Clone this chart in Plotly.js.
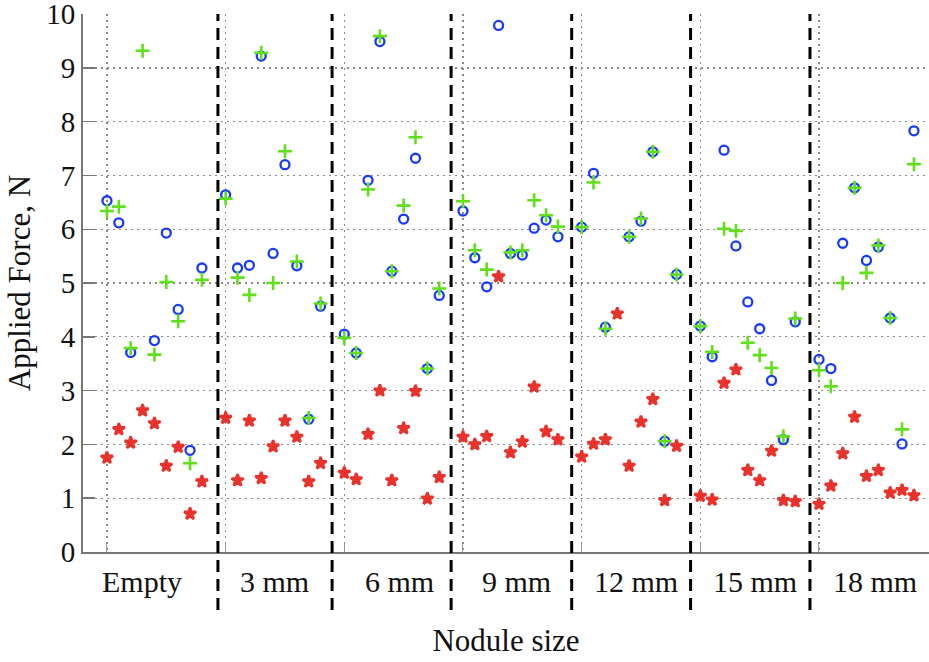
<!DOCTYPE html>
<html>
<head>
<meta charset="utf-8">
<script src="https://cdn.plot.ly/plotly-3.0.1.min.js"></script>
<style>
  html, body { margin: 0; padding: 0; background: #fff; }
  #chart { width: 929px; height: 662px; }
</style>
</head>
<body>
<div id="chart"></div>
<script>
// Categories (nodule sizes)
const groups = ["Empty", "3 mm", "6 mm", "9 mm", "12 mm", "15 mm", "18 mm"];

// Blue circles, per group (9 trials each)
const blueEmpty = [6.53, 6.12, 3.71, null, 3.93, 5.93, 4.51, 1.89, 5.28];
const blue3  = [6.64, 5.28, 5.33, 9.22, 5.55, 7.20, 5.32, 2.47, 4.57];
const blue6  = [4.05, 3.70, 6.91, 9.49, 5.22, 6.19, 7.32, 3.41, 4.77];
const blue9  = [6.34, 5.47, 4.93, 9.79, 5.55, 5.52, 6.02, 6.17, 5.86];
const blue12 = [6.04, 7.04, 4.18, null, 5.86, 6.15, 7.44, 2.06, 5.16];
const blue15 = [4.20, 3.63, 7.47, 5.69, 4.65, 4.15, 3.19, 2.09, 4.28];
const blue18 = [3.58, 3.41, 5.74, 6.77, 5.42, 5.67, 4.35, 2.01, 7.83];

// Green crosses
const greenEmpty = [6.34, 6.42, 3.79, 9.32, 3.67, 5.02, 4.29, 1.65, 5.06];
const green3  = [6.57, 5.10, 4.78, 9.28, 5.00, 7.45, 5.40, 2.49, 4.62];
const green6  = [3.98, 3.70, 6.74, 9.59, 5.22, 6.44, 7.71, 3.41, 4.90];
const green9  = [6.52, 5.61, 5.25, null, 5.57, 5.61, 6.54, 6.26, 6.05];
const green12 = [6.04, 6.87, 4.15, null, 5.86, 6.20, 7.44, 2.06, 5.16];
const green15 = [4.20, 3.72, 6.01, 5.97, 3.89, 3.66, 3.42, 2.15, 4.34];
const green18 = [3.38, 3.08, 5.00, 6.77, 5.19, 5.70, 4.35, 2.28, 7.21];

// Red stars
const redEmpty = [1.75, 2.28, 2.03, 2.63, 2.39, 1.60, 1.95, 0.71, 1.31];
const red3  = [2.49, 1.33, 2.44, 1.37, 1.96, 2.44, 2.14, 1.31, 1.65];
const red6  = [1.47, 1.35, 2.19, 3.00, 1.33, 2.30, 2.99, 0.99, 1.39];
const red9  = [2.14, 2.00, 2.15, 5.12, 1.85, 2.05, 3.07, 2.24, 2.09];
const red12 = [1.77, 2.01, 2.09, 4.43, 1.60, 2.42, 2.84, 0.96, 1.97];
const red15 = [1.04, 0.97, 3.14, 3.39, 1.52, 1.33, 1.88, 0.96, 0.94];
const red18 = [0.89, 1.23, 1.83, 2.51, 1.41, 1.52, 1.10, 1.15, 1.05];

const yTicks = [0, 1, 2, 3, 4, 5, 6, 7, 8, 9, 10];

// ---- layout helpers (positions, not data) ----
const slotsPerGroup = 10;
const labelX = [2.95, 14.1, 24.65, 34.5, 44.6, 54.6, 64.75];
const separatorX = [9.35, 18.97, 29.0, 39.16, 49.18, 59.24];

function flatten(arrs) {
  const xs = [], ys = [];
  arrs.forEach((a, g) => a.forEach((v, i) => { xs.push(g * slotsPerGroup + i); ys.push(v); }));
  return { x: xs, y: ys };
}
const blue = flatten([blueEmpty, blue3, blue6, blue9, blue12, blue15, blue18]);
const green = flatten([greenEmpty, green3, green6, green9, green12, green15, green18]);
const red = flatten([redEmpty, red3, red6, red9, red12, red15, red18]);

const font = "Liberation Serif";

const traces = [
  { type: "scatter", mode: "markers", x: red.x, y: red.y, name: "red",
    marker: { symbol: "star", size: 9, color: "#e8322b", line: { color: "#e8322b", width: 2.6 } }, cliponaxis: false },
  { type: "scatter", mode: "markers", x: blue.x, y: blue.y, name: "blue",
    marker: { symbol: "circle-open", size: 9, color: "#1638ff", line: { width: 2.3 } }, cliponaxis: false },
  { type: "scatter", mode: "markers", x: green.x, y: green.y, name: "green",
    marker: { symbol: "cross-thin-open", size: 10, color: "#5fe01a", line: { width: 2.6 } }, cliponaxis: false }
];

const yTop = 10.002;
const shapes = separatorX.map(v => ({
  type: "line", xref: "x", yref: "paper", x0: v, x1: v, y0: -0.108, y1: 1,
  line: { color: "#000", width: 3, dash: "12px,7px" }, layer: "above"
}));

const annotations = groups.map((g, k) => ({
  text: g, x: labelX[k], xref: "x", y: 0, yref: "paper",
  yanchor: "middle", xanchor: "center", yshift: -29, showarrow: false,
  font: { family: font, size: 30, color: "#111" }
}));

const layout = {
  width: 929, height: 662,
  margin: { l: 83, r: 0, t: 14, b: 110 },
  paper_bgcolor: "#fff", plot_bgcolor: "#fff",
  showlegend: false,
  xaxis: {
    range: [-2.02, 69.27],
    tickmode: "array",
    tickvals: groups.map((g, k) => k * slotsPerGroup),
    ticktext: groups.map(() => ""),
    ticks: "inside", ticklen: 8, tickcolor: "#999", tickwidth: 1,
    showgrid: true, gridcolor: "#8a8a8a", gridwidth: 1.3, griddash: "2px,4px",
    zeroline: false, showline: true, linecolor: "#777", linewidth: 2,
    title: { text: "Nodule size", font: { family: font, size: 31, color: "#111" }, standoff: 74 }
  },
  yaxis: {
    range: [0, yTop],
    tickmode: "array", tickvals: yTicks,
    ticklabeloverflow: "allow",
    ticks: "inside", ticklen: 12, tickcolor: "#777", tickwidth: 1.5,
    showgrid: true, gridcolor: "#8a8a8a", gridwidth: 1.3, griddash: "2px,4px",
    zeroline: false, showline: true, linecolor: "#777", linewidth: 2,
    tickfont: { family: font, size: 29, color: "#111" },
    title: { text: "Applied Force, N", font: { family: font, size: 31, color: "#111" }, standoff: 6 }
  },
  shapes: shapes,
  annotations: annotations
};

Plotly.newPlot("chart", traces, layout, { staticPlot: true, displayModeBar: false });
</script>
</body>
</html>
